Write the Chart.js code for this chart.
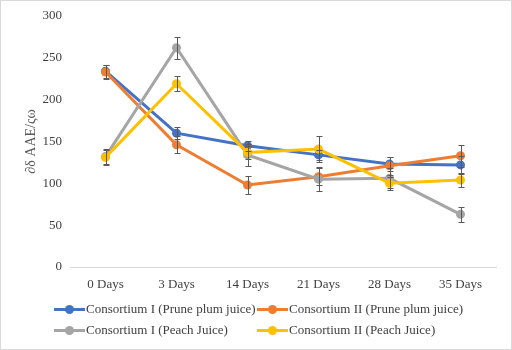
<!DOCTYPE html>
<html>
<head>
<meta charset="utf-8">
<script src="https://cdn.jsdelivr.net/npm/chart.js@4"></script>
<style>
  html, body { margin: 0; padding: 0; background: #fff; }
  #wrap { position: relative; width: 512px; height: 350px; }
  #chart { position: absolute; left: 0; top: 0; }
  #frame { position: absolute; left: 0; top: 0; width: 510px; height: 348px; border: 1px solid #d9d9d9; pointer-events: none; }
  .legend { position: absolute; left: 0; top: 0; width: 512px; height: 350px; font: 13px "Liberation Serif", serif; color: #404040; white-space: nowrap; }
  .legend .item { position: absolute; display: flex; align-items: center; height: 16px; }
  .legend .mark { position: relative; width: 31px; height: 3px; margin-right: 1px; }
  .legend .mark i { position: absolute; left: 11px; top: -3px; width: 9px; height: 9px; border-radius: 50%; }
</style>
</head>
<body>
<div id="wrap">
  <canvas id="chart" width="512" height="350"></canvas>
  <div class="legend" id="legend"></div>
  <div id="frame"></div>
</div>
<script>
// ---------- data ----------
const hari = ["0 Days", "3 Days", "14 Days", "21 Days", "28 Days", "35 Days"];

const prune1 = [234, 160, 145, 134, 123, 122];
const prune2 = [233, 146, 98, 108, 121, 133];
const peach1 = [132, 262, 134, 105, 106, 63];
const peach2 = [131, 219, 137, 141, 100, 104];

// error (+/-)
const errPrune1 = [8, 7, 6, 6, 8, 11];
const errPrune2 = [8, 10, 11, 10, 11, 13];
const errPeach1 = [9, 13, 13, 14, 12, 9];
const errPeach2 = [9, 9, 8, 15, 8, 8];

const namaSeri = [
  "Consortium I (Prune plum juice)",
  "Consortium II (Prune plum juice)",
  "Consortium I (Peach Juice)",
  "Consortium II (Peach Juice)",
];
const warna = ["#4472C4", "#ED7D31", "#A5A5A5", "#FFC000"];
const nilai = [prune1, prune2, peach1, peach2];
const galat = [errPrune1, errPrune2, errPeach1, errPeach2];

const yTicks = [0, 50, 100, 150, 200, 250, 300];
const yTitle = "\u2202\u03b4 AAE/\u03c2\u03c9";

// ---------- error bars ----------
const errorBarPlugin = {
  id: "errorBars",
  afterDatasetsDraw(chart) {
    const ctx = chart.ctx;
    const y = chart.scales.y;
    ctx.save();
    ctx.strokeStyle = "#595959";
    ctx.lineWidth = 1;
    chart.data.datasets.forEach((ds, i) => {
      const meta = chart.getDatasetMeta(i);
      meta.data.forEach((pt, j) => {
        const e = ds.errors[j];
        const v = ds.data[j];
        const top = Math.round(y.getPixelForValue(v + e)) + 0.5;
        const bot = Math.round(y.getPixelForValue(v - e)) + 0.5;
        const x = Math.round(pt.x) + 0.5;
        ctx.beginPath();
        ctx.moveTo(x, top); ctx.lineTo(x, bot);
        ctx.moveTo(x - 3, top); ctx.lineTo(x + 3, top);
        ctx.moveTo(x - 3, bot); ctx.lineTo(x + 3, bot);
        ctx.stroke();
      });
    });
    ctx.restore();
  },
};

// ---------- chart ----------
// seri terakhir digambar paling atas (seperti Excel)
const datasets = nilai.map((data, i) => ({
  label: namaSeri[i],
  data,
  errors: galat[i],
  order: nilai.length - 1 - i,
  borderColor: warna[i],
  backgroundColor: warna[i],
  borderWidth: 3,
  pointRadius: 4.5,
  pointBorderWidth: 0,
  pointBackgroundColor: warna[i],
  tension: 0,
}));

new Chart(document.getElementById("chart"), {
  type: "line",
  data: { labels: hari, datasets },
  plugins: [errorBarPlugin],
  options: {
    responsive: false,
    animation: false,
    layout: { padding: { left: 0, right: 16, top: 16, bottom: 53 } },
    plugins: { legend: { display: false }, tooltip: { enabled: false } },
    scales: {
      x: {
        offset: true,
        grid: { display: false, drawTicks: false },
        border: { display: true, color: "#d9d9d9", width: 1 },
        ticks: {
          padding: 10,
          color: "#404040",
          font: { family: "Liberation Serif", size: 13 },
        },
        afterFit: (s) => { s.height = 30; },
      },
      y: {
        min: 0,
        max: 300,
        afterBuildTicks: (s) => { s.ticks = yTicks.map((v) => ({ value: v })); },
        grid: { display: false, drawTicks: false },
        border: { display: false },
        ticks: {
          padding: 8,
          color: "#404040",
          font: { family: "Liberation Serif", size: 13 },
        },
        title: {
          display: true,
          text: yTitle,
          color: "#595959",
          padding: { top: 23, bottom: 0 },
          font: { family: "Liberation Serif", size: 14 },
        },
        afterFit: (s) => { s.width = 70; },
      },
    },
  },
});

// ---------- legend (2 kolom) ----------
const legendPos = [
  [54, 309], [257, 309],
  [54, 330], [257, 330],
];
const legendEl = document.getElementById("legend");
namaSeri.forEach((nama, i) => {
  const item = document.createElement("div");
  item.className = "item";
  item.style.left = legendPos[i][0] + "px";
  item.style.top = (legendPos[i][1] - 8) + "px";
  item.innerHTML =
    `<span class="mark" style="background:${warna[i]}"><i style="background:${warna[i]}"></i></span>${nama}`;
  legendEl.appendChild(item);
});
</script>
</body>
</html>
